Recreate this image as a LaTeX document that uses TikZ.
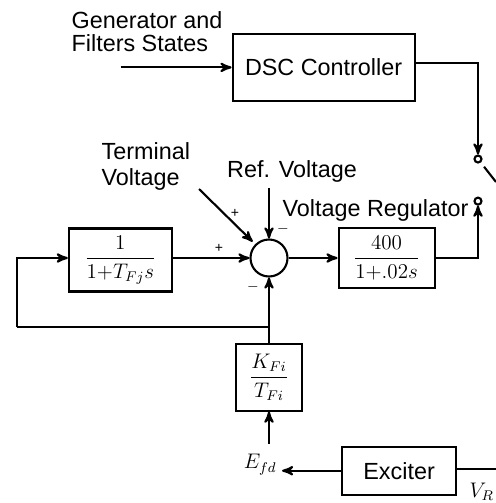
\documentclass[tikz,border=0pt]{standalone}
\usepackage{fontspec}
\setmainfont{Liberation Sans}
\usetikzlibrary{arrows,positioning}
\tikzset{
    %Define standard arrow tip
    >=stealth',
    %Define style for boxes
    box/.style={
           rectangle,
           draw=black, line width=1.2pt,
           inner sep=0pt,
           font=\fontsize{13.3}{14}\selectfont,
           text centered},
    %Define style for the summing point and the switch contacts
    junction/.style={
           circle,
           draw=black, line width=1.2pt,
           inner sep=0pt},
    % Define text styles
    label/.style={
           align=left,
           inner sep=3pt,
           font=\fontsize{13.3}{14.5}\selectfont},
    sign/.style={
           inner sep=0pt,
           font=\footnotesize},
    % Define arrow style
    signal/.style={
           ->,
           line width=1.2pt},
    wire/.style={
           line width=1.2pt}
}

\begin{document}
\begin{tikzpicture}[node distance=1cm, auto,]
 \useasboundingbox (0,0) rectangle (9.92,-10.06);
 %nodes
    \node[junction, minimum size=.74cm] (sum) at (5.38,-5.16) {};
    \node[box, minimum width=1.92cm, minimum height=1.2cm, right=.98cm of sum] (reg) {\large$\displaystyle\frac{400}{1{+}.02s}$};
    \node[box, minimum width=2.06cm, minimum height=1.26cm, left=1.53cm of sum, yshift=-.04cm] (filter) {\large$\displaystyle\frac{1}{1{+}T_{Fj}s}$};
    \node[box, minimum width=1.32cm, minimum height=1.34cm, below=1.3cm of sum] (gain) {\large$\displaystyle\frac{K_{Fi}}{T_{Fi}}$};
    \node[box, minimum width=2.28cm, minimum height=.96cm, below right=.68cm and .76cm of gain] (exciter) {Exciter};
    \node[box, minimum width=3.64cm, minimum height=1.34cm, above=2.5cm of reg, xshift=-1.26cm] (dsc) {DSC Controller};
    \node[junction, minimum size=.14cm] (conta) at (9.56,-3.18) {};
    \node[junction, minimum size=.14cm, below=.66cm of conta] (contb) {};
    \node[label, left=1.18cm of exciter, yshift=.12cm, font=\large] (efd) {$E_{fd}$};
    \node[label, anchor=west, font=\large] (vr) at (9.28,-9.84) {$V_R$};
 %labels
    \coordinate[left=2.22cm of dsc] (genin);
    \coordinate (feedback) at (.34,-6.54);
    \coordinate (termin) at (3.98,-3.78);
    \coordinate (bladeend) at (9.92,-3.64);
    \coordinate (vrend) at (9.92,-9.38);
    \node[label, anchor=south west, font=\fontsize{13.3}{13.1}\selectfont] (gen) at (1.32,-1.14) {Generator and\\Filters States};
    \node[label, anchor=west] (termv) at (1.92,-3.33) {Terminal\\Voltage};
    \node[label, above=1cm of sum, xshift=.46cm] (refv) {Ref. Voltage};
    \node[label, anchor=west] (regv) at (5.54,-4.2) {Voltage Regulator};
    \node[sign] (ptop) at (4.7,-4.26) {+};
    \node[sign] (mtop) at (5.66,-4.58) {$-$};
    \node[sign] (pleft) at (4.38,-4.96) {+};
    \node[sign] (mbot) at (5.06,-5.74) {$-$};
 %edges
    \draw[signal] (genin) to (dsc);
    \draw[signal] ([yshift=.09cm]dsc.east) -| (conta);
    \draw[wire, shorten <=3pt] (conta) to (bladeend);
    \draw[signal] (reg) -| (contb);
    \draw[signal] (sum) to (reg);
    \draw[signal] (filter.east |- sum) to (sum);
    \draw[signal, shorten >=2pt] (termin) to (sum.135);
    \draw[signal] (sum |- refv.south) to (sum);
    \draw[signal] (gain) to (sum);
    \draw[signal] ([yshift=.1cm]gain |- efd.north) to (gain);
    \draw[signal] (exciter) to (efd.east |- exciter);
    \draw[wire] (exciter.east |- vrend) to (vrend);
    \draw[wire] (gain.north |- feedback) -- (feedback);
    \draw[signal] (feedback) |- (filter.west |- sum);
  \end{tikzpicture}
\end{document}
